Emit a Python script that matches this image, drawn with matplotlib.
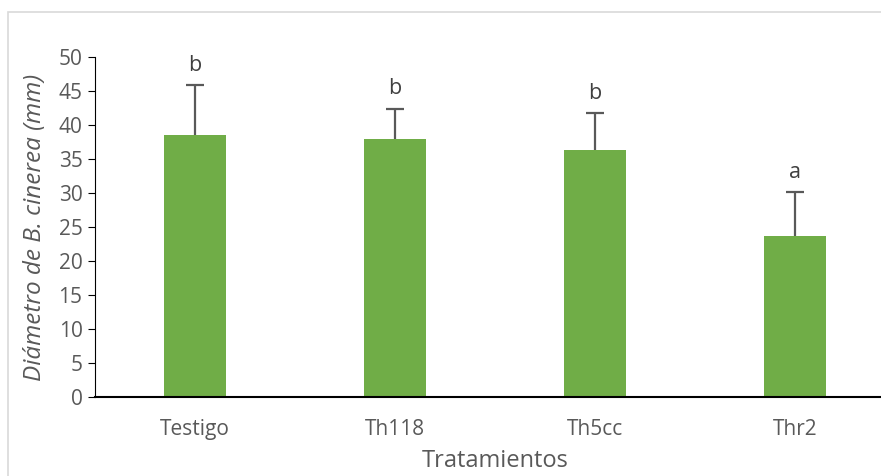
import matplotlib.pyplot as plt
from matplotlib.patches import Rectangle

categories = ['Testigo', 'Th118', 'Th5cc', 'Thr2']
means = [38.5, 37.9, 36.3, 23.7]
errors = [7.4, 4.5, 5.5, 6.4]
letters = ['b', 'b', 'b', 'a']

plt.rcParams['font.family'] = ['Open Sans', 'DejaVu Sans']
gray = '#595959'

fig = plt.figure(figsize=(8.81, 4.76), dpi=100)
# light border of the chart area (cropped at right and bottom)
fig.patches.append(Rectangle((8 / 881, -0.1), 1.0, 1 - 12 / 476 + 0.1,
                             transform=fig.transFigure, fill=False,
                             edgecolor='#d9d9d9', linewidth=1.2))

ax = fig.add_axes([95 / 881, 79 / 476, 800 / 881, 340 / 476])
x = list(range(len(categories)))
tops = [m + e for m, e in zip(means, errors)]
ax.bar(x, means, width=0.31, color='#70ad47', zorder=2)
# upper error bars only
ax.vlines(x, means, tops, color=gray, linewidth=1.6, zorder=3)
ax.plot(x, tops, linestyle='none', marker='_', markersize=13,
        markeredgewidth=1.6, color=gray, zorder=3)
for i, (t, l) in enumerate(zip(tops, letters)):
    ax.text(i, t + 2.9, l, ha='center', va='center', fontsize=15.5, color='#404040')

ax.set_xlim(-0.5, 3.5)
ax.set_ylim(0, 50)
ax.set_yticks(range(0, 51, 5))
ax.set_xticks(x)
ax.set_xticklabels(categories)
ax.tick_params(axis='y', direction='out', length=5, labelcolor=gray, labelsize=15, pad=4)
ax.tick_params(axis='x', length=0, labelcolor=gray, labelsize=15, pad=16)
for s in ['top', 'right']:
    ax.spines[s].set_visible(False)
ax.spines['left'].set_color('black')
ax.spines['bottom'].set_color('black')
ax.spines['bottom'].set_linewidth(1.5)

ax.set_xlabel('Tratamientos', fontsize=17, color=gray, labelpad=6)
ax.set_ylabel('Diámetro de B. cinerea (mm)', fontsize=17.5, color=gray,
              style='italic', labelpad=8)

fig.savefig('out.png', dpi=100)
